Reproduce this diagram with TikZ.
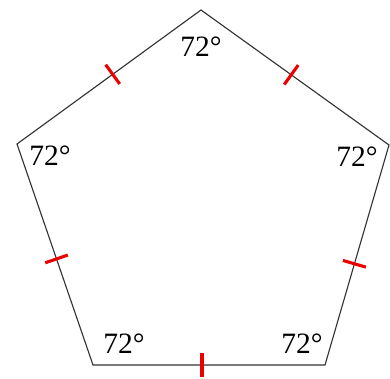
\documentclass[tikz,border=0pt]{standalone}
\usepackage{fontspec}
\setmainfont{Liberation Serif}
\usepackage{tikz}
\usetikzlibrary{calc}

\begin{document}
\begin{tikzpicture}[x=0.025cm, y=-0.025cm,
	every node/.style={font=\fontsize{21}{24}\selectfont, inner sep=0pt},
	side/.style={line width=0.8pt, black!80},
	tick/.style={red!92!black, line width=2.2pt}]
	\useasboundingbox (0,0) rectangle (390,378);
	\coordinate (t) at (201,10);
	\coordinate (r) at (389,145);
	\coordinate (br) at (325,365);
	\coordinate (bl) at (93,365);
	\coordinate (l) at (17,144);
	\draw[side] (t) -- (r) -- (br) -- (bl) -- (l) -- cycle;
	\foreach \a/\b/\p in {t/r/0.48, r/br/0.54, br/bl/0.53, bl/l/0.48, l/t/0.52} {\draw[tick] ($(\a)!\p!(\b)!8.5pt!90:(\b)$) -- ($(\a)!\p!(\b)!8.5pt!-90:(\b)$);}
	\node (at) at (201,47) {72°};
	\node (al) at (50,156) {72°};
	\node (ar) at (357,157) {72°};
	\node (abl) at (124,344) {72°};
	\node (abr) at (302,344) {72°};
\end{tikzpicture}
\end{document}
